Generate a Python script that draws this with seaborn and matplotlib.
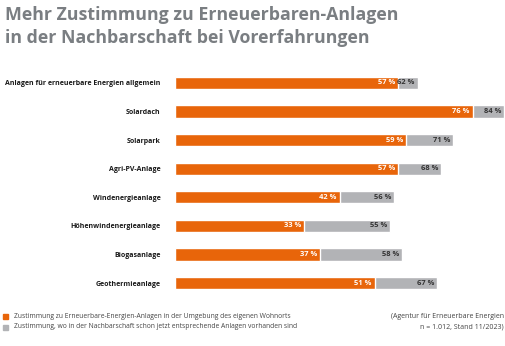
import matplotlib
matplotlib.use("Agg")
import matplotlib.pyplot as plt
import seaborn as sns
import pandas as pd

categories = ["Anlagen für erneuerbare Energien allgemein", "Solardach", "Solarpark",
              "Agri-PV-Anlage", "Windenergieanlage", "Höhenwindenergieanlage",
              "Biogasanlage", "Geothermieanlage"]
umgebung = [57, 76, 59, 57, 42, 33, 37, 51]
nachbarschaft = [62, 84, 71, 68, 56, 55, 58, 67]
legend_labels = ["Zustimmung zu Erneuerbare-Energien-Anlagen in der Umgebung des eigenen Wohnorts",
                 "Zustimmung, wo in der Nachbarschaft schon jetzt entsprechende Anlagen vorhanden sind"]

sns.set_theme(style="white")
plt.rcParams['font.family'] = ['Open Sans', 'DejaVu Sans']

ORANGE = "#e8650a"
GREY = "#b2b3b6"
df = pd.DataFrame({"cat": categories, "u": umgebung, "n": nachbarschaft})

fig = plt.figure(figsize=(5.06, 3.46), dpi=100)
ax = fig.add_axes([175/506, 1-297.3/346, 1-175/506, (297.3-68.7)/346])

sns.barplot(data=df, y="cat", x="n", color=GREY, width=0.43, ax=ax, saturation=1, orient="h")
sns.barplot(data=df, y="cat", x="u", color=ORANGE, width=0.43, ax=ax, saturation=1, orient="h")

ax.set_xlim(0, 84.5)
ax.set_xlabel("")
ax.set_ylabel("")
ax.set_xticks([])
for s in ax.spines.values():
    s.set_visible(False)
ax.tick_params(axis="y", length=0, pad=10.5)
for lab in ax.get_yticklabels():
    lab.set_fontsize(5.05)
    lab.set_fontweight("bold")
    lab.set_color("#1a1a1a")

for i, (u, n) in enumerate(zip(umgebung, nachbarschaft)):
    ax.text(u - 0.8, i, f"{u} %", ha="right", va="center", color="white",
            fontsize=5.4, fontweight="bold")
    ax.text(n - 0.8, i, f"{n} %", ha="right", va="center", color="#333333",
            fontsize=5.4, fontweight="bold")

fig.text(5/506, 1-15/346, "Mehr Zustimmung zu Erneuerbaren-Anlagen", fontsize=12.8,
         fontweight="bold", color="#7a7e82", va="center", ha="left")
fig.text(5/506, 1-38/346, "in der Nachbarschaft bei Vorerfahrungen", fontsize=12.8,
         fontweight="bold", color="#7a7e82", va="center", ha="left")

for k, (lab, col) in enumerate(zip(legend_labels, [ORANGE, GREY])):
    y = 1 - (316 + k * 11) / 346
    fig.patches.append(plt.Rectangle((3/506, y - 2.5/346), 5/506, 5/346,
                                     transform=fig.transFigure, color=col, figure=fig))
    fig.text(14/506, y, lab, fontsize=4.9, color="#444444", va="center", ha="left")

fig.text(504/506, 1-316/346, "(Agentur für Erneuerbare Energien", fontsize=5.0,
         color="#444444", va="center", ha="right")
fig.text(504/506, 1-327/346, "n = 1.012, Stand 11/2023)", fontsize=5.0,
         color="#444444", va="center", ha="right")

fig.savefig("out.png", dpi=100)
